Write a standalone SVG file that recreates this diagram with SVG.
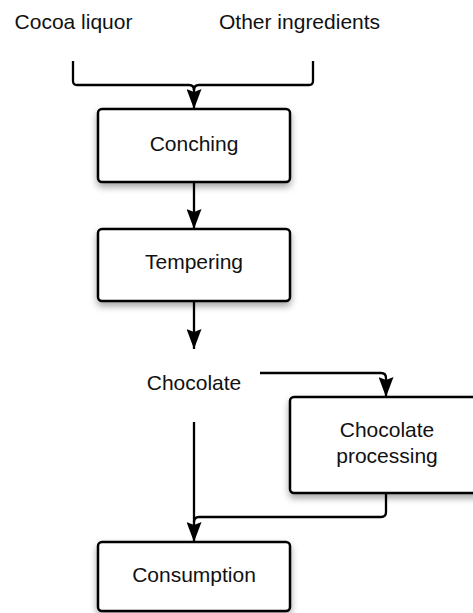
<svg xmlns="http://www.w3.org/2000/svg" width="473" height="613" viewBox="0 0 473 613">
  <style>
    .lbl { font-family: "Liberation Sans", Arial, sans-serif; font-size: 21px; fill: #111; }
    .mid { text-anchor: middle; }
    .box { fill: #fff; stroke: #000; stroke-width: 2.5; filter: url(#shadow); }
    .wire { fill: none; stroke: #000; stroke-width: 2.3; }
  </style>
  <defs>
    <filter id="shadow" x="-20%" y="-20%" width="140%" height="160%">
      <feDropShadow dx="0" dy="4" stdDeviation="3.5" flood-color="#000" flood-opacity="0.35"/>
    </filter>
    <marker id="arrow" markerWidth="20" markerHeight="15" refX="20" refY="7.5" viewBox="0 0 20 15" orient="auto" markerUnits="userSpaceOnUse">
      <path d="M0,0 L20,7.5 L0,15 L3,7.5 Z" fill="#000"/>
    </marker>
  </defs>

  <rect width="473" height="613" fill="#fff"/>

  <!-- inputs -->
  <g id="cocoa-liquor">
    <text class="lbl mid" x="73.5" y="29">Cocoa liquor</text>
  </g>
  <g id="other-ingredients">
    <text class="lbl" x="219" y="29">Other ingredients</text>
  </g>

  <!-- process steps -->
  <g id="conching">
    <rect class="box" x="98" y="109" width="192" height="73" rx="4"/>
    <text class="lbl mid" x="194" y="151">Conching</text>
  </g>
  <g id="tempering">
    <rect class="box" x="98" y="229" width="192" height="72" rx="4"/>
    <text class="lbl mid" x="194" y="269">Tempering</text>
  </g>
  <g id="chocolate">
    <text class="lbl mid" x="194" y="390">Chocolate</text>
  </g>
  <g id="chocolate-processing">
    <rect class="box" x="290" y="397" width="192" height="96" rx="4"/>
    <text class="lbl mid" x="387" y="437">Chocolate</text>
    <text class="lbl mid" x="387" y="463">processing</text>
  </g>
  <g id="consumption">
    <rect class="box" x="98" y="542" width="192" height="69" rx="4"/>
    <text class="lbl mid" x="194" y="582">Consumption</text>
  </g>

  <!-- connectors -->
  <g id="connectors">
    <path class="wire" d="M73,61 V81 Q73,85 77,85 H189 Q194,85 194,90"/>
    <path class="wire" d="M313,61 V81 Q313,85 309,85 H199 Q194,85 194,90"/>
    <path class="wire" d="M194,88 V109" marker-end="url(#arrow)"/>
    <path class="wire" d="M194,182 V229" marker-end="url(#arrow)"/>
    <path class="wire" d="M194,301 V349" marker-end="url(#arrow)"/>
    <path class="wire" d="M260,373 H381 Q386,373 386,378 V397" marker-end="url(#arrow)"/>
    <path class="wire" d="M386,493 V512 Q386,517 381,517 H199 Q194,517 194,522"/>
    <path class="wire" d="M194,422 V542" marker-end="url(#arrow)"/>
  </g>
</svg>
